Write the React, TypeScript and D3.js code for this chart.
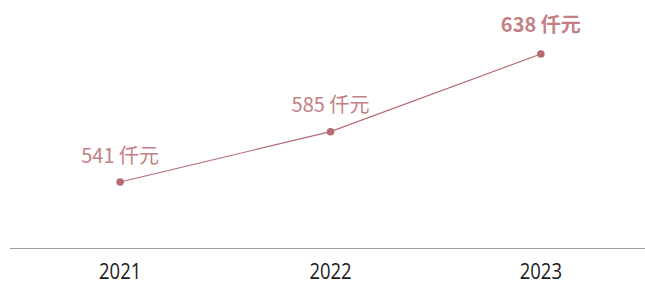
import * as d3 from "d3";

const years = ["2021", "2022", "2023"];
const values = [541, 585, 638];
const valueLabels = ["541 仟元", "585 仟元", "638 仟元"];

const W = 645;
const H = 284;

export default function App() {
  // point scale across the width, year centers
  const x = d3.scalePoint<string>().domain(years).range([15, 646]).padding(0.5);
  // the picture stretches the upper values, a pow scale fits it
  const y = d3.scalePow().exponent(4).domain([541, 638]).range([182, 54]);

  const line = d3
    .line<number>()
    .x((_, i) => x(years[i]) as number)
    .y((d) => y(d));

  return (
    <svg
      width={W}
      height={H}
      style={{ position: "absolute", left: 0, top: 0 }}
      fontFamily="'Noto Sans CJK SC', 'Noto Sans', sans-serif"
    >
      <path d={line(values) || ""} fill="none" stroke="#b56b70" strokeWidth={1.2} />
      {values.map((v, i) => (
        <circle key={i} cx={x(years[i])} cy={y(v)} r={3.8} fill="#b56b70" />
      ))}
      {values.map((v, i) => {
        const last = i === values.length - 1;
        return (
          <text
            key={"l" + i}
            x={x(years[i])}
            y={y(v) - (last ? 22 : 19.5)}
            textAnchor="middle"
            fontSize={20}
            fontWeight={last ? 600 : 400}
            fill="#c47f84"
          >
            {valueLabels[i]}
          </text>
        );
      })}
      <line x1={10} x2={645} y1={248.5} y2={248.5} stroke="#a89a9a" strokeWidth={1} />
      {years.map((yr) => (
        // narrow digits: squeeze a light sans horizontally
        <text
          key={yr}
          transform={`translate(${x(yr)},278.5) scale(0.84,1)`}
          textAnchor="middle"
          fontSize={22}
          fill="#1a1a1a"
          fontFamily="'Open Sans', 'Liberation Sans', sans-serif"
        >
          {yr}
        </text>
      ))}
    </svg>
  );
}
